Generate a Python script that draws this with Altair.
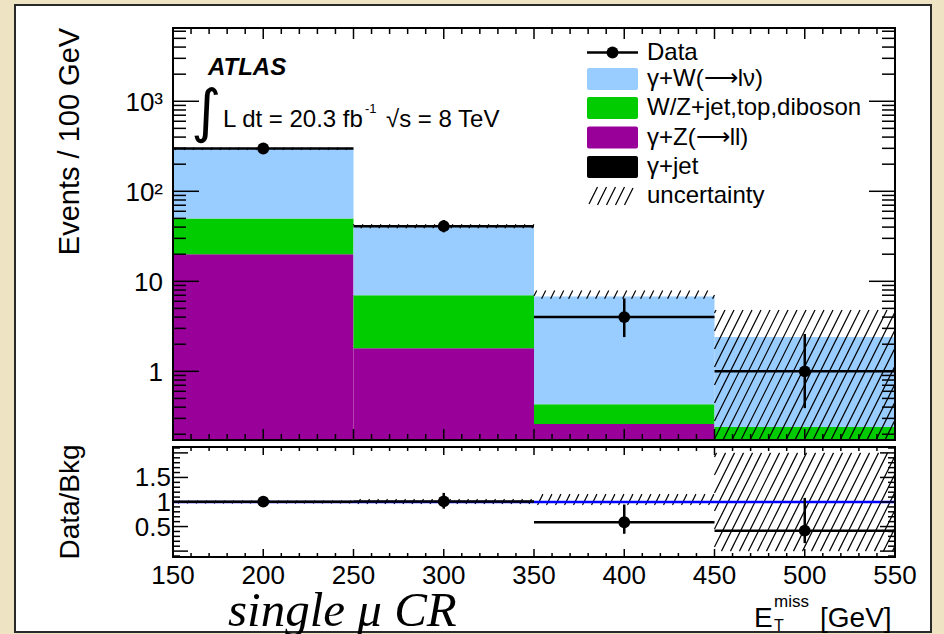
import math
import altair as alt
import pandas as pd

# ---------------- binning (E_T^miss, GeV) ----------------
bin_lo = [150, 250, 350, 450]
bin_hi = [250, 350, 450, 550]
bin_mid = [200, 300, 400, 500]

# ---------------- stacked backgrounds, events / 100 GeV (stack order: bottom first) ----------------
bkg_gjet = [0.10, 0.010, 0.010, 0.020]
bkg_gZ = [19.9, 1.79, 0.25, 0.10]
bkg_wz = [30.0, 5.2, 0.17, 0.12]
bkg_gW = [247.0, 33.5, 6.37, 2.16]

# ---------------- data ----------------
data_val = [299, 41, 4, 1]
data_err_lo = [282, 35, 2.4, 0.39]
data_err_hi = [316, 48, 6.45, 2.6]

# relative background uncertainty band (lower, upper) per bin
unc_rel_lo = [0.97, 0.96, 0.94, 0.0]
unc_rel_hi = [1.03, 1.06, 1.16, 2.0]

comp_names = ["γ+jet", "γ+Z(⟶ll)", "W/Z+jet,top,diboson", "γ+W(⟶lν)"]
comp_colors = ["#000000", "#990099", "#00cc00", "#99ccff"]

legend_labels = ["Data", "γ+W(⟶lν)", "W/Z+jet,top,diboson", "γ+Z(⟶ll)", "γ+jet", "uncertainty"]

x_major = [150, 200, 250, 300, 350, 400, 450, 500, 550]
main_y_labels = {1: "1", 10: "10", 100: "10²", 1000: "10³"}
ratio_y_labels = {0.5: "0.5", 1.0: "1", 1.5: "1.5"}

# ---------------- geometry of the two stacked pads ----------------
SANS = "Liberation Sans"
SERIF = "Liberation Serif"
W, MAIN_H, GAP, RATIO_H = 722, 412, 7, 110
H = MAIN_H + GAP + RATIO_H
RATIO_TOP = MAIN_H + GAP
X_MIN, X_MAX = 150, 550
LOG_MAX, LOG_MIN = 3.814, -0.763
LOG_PER_PX = (LOG_MAX - LOG_MIN) / MAIN_H
LOG_BOT = LOG_MAX - H * LOG_PER_PX
R_MAX, R_MIN = 2.12, -0.12
R_PER_PX = (R_MAX - R_MIN) / RATIO_H
R_TOP = R_MIN + H * R_PER_PX
Y_FLOOR = 10 ** LOG_MIN
Y_CEIL = 10 ** LOG_MAX

XS = alt.Scale(domain=[X_MIN, X_MAX], nice=False, zero=False)
YS_MAIN = alt.Scale(type="log", domain=[10 ** LOG_BOT, Y_CEIL], nice=False)
YS_RATIO = alt.Scale(domain=[R_MIN, R_TOP], nice=False, zero=False)


def px_x(v):
    return (v - X_MIN) * W / (X_MAX - X_MIN)


def x_of(px):
    return X_MIN + px * (X_MAX - X_MIN) / W


def px_main(v):
    return (LOG_MAX - math.log10(v)) / LOG_PER_PX


def main_of(px):
    return 10 ** (LOG_MAX - px * LOG_PER_PX)


def px_ratio(v):
    return (R_TOP - v) / R_PER_PX


def ratio_of(px):
    return R_TOP - px * R_PER_PX


def hatch(x0, x1, ya, yb, spacing=9.0, slope=2.0):
    """Diagonal hatch segments (pixel space) filling the box [x0,x1] x [ya,yb]."""
    segs = []
    kmin = math.floor((x0 + ya / slope) / spacing) - 1
    kmax = math.ceil((x1 + yb / slope) / spacing) + 1
    for k in range(kmin, kmax + 1):
        c = k * spacing
        lo = max(ya, (c - x1) * slope)
        hi = min(yb, (c - x0) * slope)
        if hi - lo > 0.5:
            segs.append((c - lo / slope, lo, c - hi / slope, hi))
    return segs


one = pd.DataFrame({"a": [0]})

# ---------------- main pad ----------------
totals = [a + b + c + d for a, b, c, d in zip(bkg_gjet, bkg_gZ, bkg_wz, bkg_gW)]

rows = []
for i in range(4):
    base = 0.0
    for name, comp in zip(comp_names, [bkg_gjet[i], bkg_gZ[i], bkg_wz[i], bkg_gW[i]]):
        top = base + comp
        if top > Y_FLOOR:
            rows.append({"lo": bin_lo[i], "hi": bin_hi[i],
                         "y0": max(base, Y_FLOOR), "y1": top, "comp": name})
        base = top
bars_df = pd.DataFrame(rows)

# hatched uncertainty band in the main pad
hm = []
for i in range(4):
    up = totals[i] * unc_rel_hi[i]
    dn = totals[i] * unc_rel_lo[i]
    ya = px_main(up)
    yb = MAIN_H if dn <= Y_FLOOR else px_main(dn)
    for (xa, pa, xb, pb) in hatch(px_x(bin_lo[i]), px_x(bin_hi[i]), ya, yb):
        hm.append({"x": x_of(xa), "y": main_of(pa), "x2": x_of(xb), "y2": main_of(pb)})
hatch_main_df = pd.DataFrame(hm)

data_df = pd.DataFrame({"mid": bin_mid, "lo": bin_lo, "hi": bin_hi, "v": data_val,
                        "elo": data_err_lo, "ehi": data_err_hi})

white_panel = alt.Chart(one).mark_rect(fill="white", stroke="#2a2a2a", strokeWidth=2).encode(
    x=alt.value(-158), x2=alt.value(758), y=alt.value(-23), y2=alt.value(604))

bars = alt.Chart(bars_df).mark_rect().encode(
    x=alt.X("lo:Q", scale=XS, axis=None), x2="hi:Q",
    y=alt.Y("y0:Q", scale=YS_MAIN, axis=None), y2="y1:Q",
    color=alt.Color("comp:N", scale=alt.Scale(domain=comp_names, range=comp_colors), legend=None))

hatch_main = alt.Chart(hatch_main_df).mark_rule(color="black", strokeWidth=1.2).encode(
    x=alt.X("x:Q", scale=XS, axis=None), x2="x2:Q",
    y=alt.Y("y:Q", scale=YS_MAIN, axis=None), y2="y2:Q")

d_h = alt.Chart(data_df).mark_rule(color="black", strokeWidth=2.5).encode(
    x=alt.X("lo:Q", scale=XS, axis=None), x2="hi:Q",
    y=alt.Y("v:Q", scale=YS_MAIN, axis=None))
d_v = alt.Chart(data_df).mark_rule(color="black", strokeWidth=2.5).encode(
    x=alt.X("mid:Q", scale=XS, axis=None),
    y=alt.Y("elo:Q", scale=YS_MAIN, axis=None), y2="ehi:Q")
d_pt = alt.Chart(data_df).mark_circle(color="black", opacity=1, size=140).encode(
    x=alt.X("mid:Q", scale=XS, axis=None),
    y=alt.Y("v:Q", scale=YS_MAIN, axis=None))

main_frame = alt.Chart(one).mark_rect(fillOpacity=0, stroke="black", strokeWidth=2).encode(
    x=alt.value(0), x2=alt.value(W), y=alt.value(0), y2=alt.value(MAIN_H))

# ticks of the main pad (pointing inwards on all four sides)
xt = pd.DataFrame({"v": list(range(150, 551, 10))})
xt["major"] = xt["v"] % 50 == 0
xt_major = xt[xt["major"]]
xt_minor = xt[~xt["major"]]

yt_vals = []
for k in range(-1, 4):
    for m in range(1, 10):
        v = m * 10 ** k
        if Y_FLOOR <= v <= Y_CEIL:
            yt_vals.append({"v": v, "major": m == 1})
yt = pd.DataFrame(yt_vals)
yt_major = yt[yt["major"]]
yt_minor = yt[~yt["major"]]


def xticks(df, y, y2):
    return alt.Chart(df).mark_rule(color="black", strokeWidth=1.5).encode(
        x=alt.X("v:Q", scale=XS, axis=None), y=alt.value(y), y2=alt.value(y2))


def yticks(df, scale, x, x2):
    return alt.Chart(df).mark_rule(color="black", strokeWidth=1.5).encode(
        y=alt.Y("v:Q", scale=scale, axis=None), x=alt.value(x), x2=alt.value(x2))


main_ticks = [
    xticks(xt_major, MAIN_H, MAIN_H - 11), xticks(xt_minor, MAIN_H, MAIN_H - 6),
    xticks(xt_major, 0, 11), xticks(xt_minor, 0, 6),
    yticks(yt_major, YS_MAIN, 0, 26), yticks(yt_minor, YS_MAIN, 0, 13),
    yticks(yt_major, YS_MAIN, W, W - 26), yticks(yt_minor, YS_MAIN, W, W - 13),
]

ylab_main = alt.Chart(pd.DataFrame({"v": list(main_y_labels.keys()),
                                    "lab": list(main_y_labels.values())})).mark_text(
    align="right", baseline="middle", font=SANS, fontSize=26, color="black", dy=2).encode(
    y=alt.Y("v:Q", scale=YS_MAIN, axis=None), x=alt.value(-10), text="lab:N")


def label(txt, x, y, size, align="left", baseline="alphabetic", font=SANS, style="normal",
          weight="normal", angle=0):
    return alt.Chart(one).mark_text(
        align=align, baseline=baseline, font=font, fontSize=size, fontStyle=style,
        fontWeight=weight, angle=angle, color="black").encode(
        x=alt.value(x), y=alt.value(y), text=alt.value(txt))


texts = [
    label("Events / 100 GeV", -103, 113.5, 29, align="center", baseline="middle", angle=270),
    label("ATLAS", 35, 47, 24, style="italic", weight="bold"),
    label("∫", 33, 86, 58, align="center", baseline="middle", font="DejaVu Sans"),
    label("L dt = 20.3 fb", 50, 99, 24),
    label("-1", 192, 85, 13),
    label("√s = 8 TeV", 213, 99, 24),
]

# legend
leg_rows = [24.5, 51, 80, 109.5, 139, 168]
legend = [
    alt.Chart(one).mark_rule(color="black", strokeWidth=2.5).encode(
        x=alt.value(414), x2=alt.value(465), y=alt.value(leg_rows[0])),
    alt.Chart(one).mark_circle(color="black", opacity=1, size=140).encode(
        x=alt.value(439.5), y=alt.value(leg_rows[0])),
]
for row, col in zip(leg_rows[1:5], ["#99ccff", "#00cc00", "#990099", "#000000"]):
    legend.append(alt.Chart(one).mark_rect(color=col, cornerRadius=2).encode(
        x=alt.value(414), x2=alt.value(465), y=alt.value(row - 11), y2=alt.value(row + 11)))
lh = [{"x": x_of(a), "y": main_of(b), "x2": x_of(c), "y2": main_of(d)}
      for (a, b, c, d) in hatch(416, 460, leg_rows[5] - 9, leg_rows[5] + 9)]
legend.append(alt.Chart(pd.DataFrame(lh)).mark_rule(color="black", strokeWidth=1.2).encode(
    x=alt.X("x:Q", scale=XS, axis=None), x2="x2:Q",
    y=alt.Y("y:Q", scale=YS_MAIN, axis=None), y2="y2:Q"))
for row, txt in zip(leg_rows, legend_labels):
    legend.append(label(txt, 474, row, 24, baseline="middle"))

main = alt.layer(white_panel, bars, hatch_main, d_h, d_v, d_pt, main_frame,
                 *main_ticks, ylab_main, *texts, *legend)

# ---------------- ratio pad ----------------
ratio_df = pd.DataFrame({
    "mid": bin_mid, "lo": bin_lo, "hi": bin_hi,
    "r": [d / t for d, t in zip(data_val, totals)],
    "rlo": [d / t for d, t in zip(data_err_lo, totals)],
    "rhi": [d / t for d, t in zip(data_err_hi, totals)],
})

hr = []
for i in range(4):
    ya = max(px_ratio(unc_rel_hi[i]), RATIO_TOP)
    yb = min(px_ratio(unc_rel_lo[i]), H)
    for (xa, pa, xb, pb) in hatch(px_x(bin_lo[i]), px_x(bin_hi[i]), ya, yb):
        hr.append({"x": x_of(xa), "y": ratio_of(pa), "x2": x_of(xb), "y2": ratio_of(pb)})
hatch_ratio_df = pd.DataFrame(hr)

hatch_ratio = alt.Chart(hatch_ratio_df).mark_rule(color="black", strokeWidth=1.2).encode(
    x=alt.X("x:Q", scale=XS, axis=None), x2="x2:Q",
    y=alt.Y("y:Q", scale=YS_RATIO, axis=None), y2="y2:Q")

unity = alt.Chart(pd.DataFrame({"a": [X_MIN], "b": [X_MAX], "r": [1.0]})).mark_rule(
    color="#0000ff", strokeWidth=2.5).encode(
    x=alt.X("a:Q", scale=XS, axis=None), x2="b:Q",
    y=alt.Y("r:Q", scale=YS_RATIO, axis=None))

r_h = alt.Chart(ratio_df).mark_rule(color="black", strokeWidth=2.5).encode(
    x=alt.X("lo:Q", scale=XS, axis=None), x2="hi:Q",
    y=alt.Y("r:Q", scale=YS_RATIO, axis=None))
r_v = alt.Chart(ratio_df).mark_rule(color="black", strokeWidth=2.5).encode(
    x=alt.X("mid:Q", scale=XS, axis=None),
    y=alt.Y("rlo:Q", scale=YS_RATIO, axis=None), y2="rhi:Q")
r_pt = alt.Chart(ratio_df).mark_circle(color="black", opacity=1, size=140).encode(
    x=alt.X("mid:Q", scale=XS, axis=None),
    y=alt.Y("r:Q", scale=YS_RATIO, axis=None))

ratio_frame = alt.Chart(one).mark_rect(fillOpacity=0, stroke="black", strokeWidth=2).encode(
    x=alt.value(0), x2=alt.value(W), y=alt.value(RATIO_TOP), y2=alt.value(H))

rt = pd.DataFrame({"v": [round(-0.1 + 0.1 * i, 1) for i in range(23)]})
rt["major"] = [abs(v * 2 - round(v * 2)) < 1e-9 for v in rt["v"]]
rt_major = rt[rt["major"]]
rt_minor = rt[~rt["major"]]

ratio_ticks = [
    xticks(xt_major, H, H - 8), xticks(xt_minor, H, H - 4),
    xticks(xt_major, RATIO_TOP, RATIO_TOP + 8), xticks(xt_minor, RATIO_TOP, RATIO_TOP + 4),
    yticks(rt_major, YS_RATIO, 0, 15), yticks(rt_minor, YS_RATIO, 0, 7),
    yticks(rt_major, YS_RATIO, W, W - 15), yticks(rt_minor, YS_RATIO, W, W - 7),
]

ylab_ratio = alt.Chart(pd.DataFrame({"v": list(ratio_y_labels.keys()),
                                     "lab": list(ratio_y_labels.values())})).mark_text(
    align="right", baseline="middle", font=SANS, fontSize=26, color="black", dy=1).encode(
    y=alt.Y("v:Q", scale=YS_RATIO, axis=None), x=alt.value(-2), text="lab:N")

xlab = alt.Chart(pd.DataFrame({"v": x_major, "lab": [str(v) for v in x_major]})).mark_text(
    align="center", baseline="top", font=SANS, fontSize=26, color="black").encode(
    x=alt.X("v:Q", scale=XS, axis=None), y=alt.value(H + 6), text="lab:N")

ratio_texts = [
    label("Data/Bkg", -102, 474, 28, align="center", baseline="middle", angle=270),
    label("single μ CR", 55, 598, 49, font=SERIF, style="italic"),
    label("E", 581, 599, 28),
    label("miss", 601, 579, 17),
    label("T", 601, 603, 16),
    label("[GeV]", 647, 599, 28),
]

ratio = alt.layer(hatch_ratio, unity, r_h, r_v, r_pt, ratio_frame, *ratio_ticks,
                  ylab_ratio, xlab, *ratio_texts)

chart = alt.layer(main, ratio).resolve_scale(y="independent").properties(
    width=W, height=H,
    autosize=alt.AutoSizeParams(type="none"),
    padding={"left": 173, "top": 28, "right": 49, "bottom": 77},
).configure(background="#eee4c3").configure_view(stroke=None)

chart.save("out.html", embed_options={"renderer": "svg", "actions": False})
